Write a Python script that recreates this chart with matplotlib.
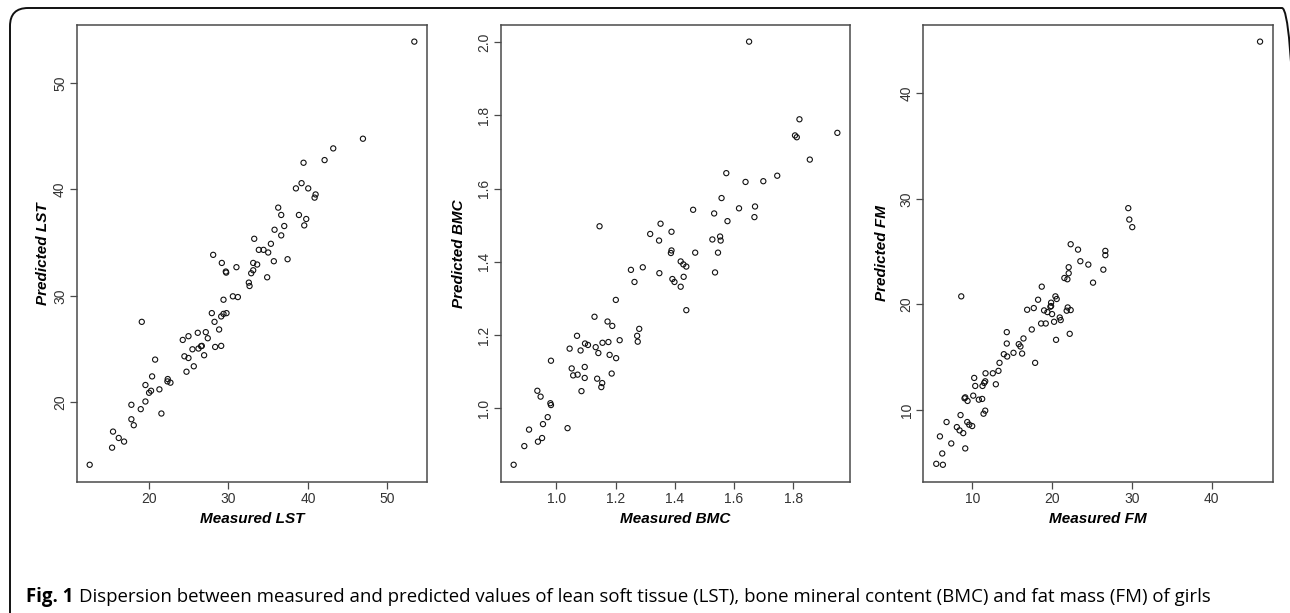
import matplotlib
matplotlib.use("Agg")
import matplotlib.pyplot as plt
from matplotlib.patches import FancyBboxPatch
import matplotlib.transforms as mtransforms
import numpy as np

# ---------------- data ----------------
lst_measured = [53.4, 46.93, 43.19, 42.1, 39.45, 39.2, 38.49, 40.04, 40.97, 40.84,
                36.26, 36.64, 38.87, 39.79, 37.02, 39.54, 35.8, 36.64, 33.24, 35.34,
                33.82, 34.41, 35.0, 28.07, 29.16, 33.11, 33.61, 35.71, 37.44, 31.0,
                29.66, 29.71, 33.11, 32.86, 34.87, 32.56, 32.65, 30.55, 31.18, 29.37,
                27.9, 29.37, 29.75, 29.08, 19.08, 28.24, 28.82, 26.13, 27.14, 24.96,
                24.24, 27.39, 26.55, 26.64, 25.46, 26.22, 28.32, 29.08, 24.45, 24.96,
                26.93, 20.76, 25.63, 24.71, 20.38, 22.35, 22.31, 22.69, 19.54, 20.25,
                20.0, 21.3, 19.54, 17.77, 18.95, 17.77, 18.07, 21.55, 15.46, 16.18,
                16.85, 15.34, 12.52]
lst_predicted = [53.9, 44.77, 43.86, 42.76, 42.51, 40.59, 40.1, 40.1, 39.53, 39.23,
                 38.29, 37.6, 37.6, 37.22, 36.56, 36.62, 36.21, 35.68, 35.36, 34.89,
                 34.32, 34.32, 34.07, 33.85, 33.09, 33.09, 32.94, 33.25, 33.44, 32.69,
                 32.28, 32.18, 32.4, 32.12, 31.74, 31.24, 30.92, 29.95, 29.88, 29.63,
                 28.37, 28.3, 28.37, 28.06, 27.55, 27.55, 26.83, 26.52, 26.58, 26.2,
                 25.85, 26.01, 25.26, 25.29, 24.97, 25.04, 25.19, 25.29, 24.31, 24.15,
                 24.41, 24.0, 23.37, 22.86, 22.42, 22.17, 21.95, 21.83, 21.61, 21.07,
                 20.88, 21.2, 20.06, 19.75, 19.34, 18.39, 17.83, 18.93, 17.23, 16.63,
                 16.29, 15.72, 14.11]

bmc_measured = [1.651, 1.821, 1.949, 1.806, 1.812, 1.856, 1.574, 1.746, 1.639, 1.699,
                1.558, 1.617, 1.671, 1.462, 1.669, 1.533, 1.578, 1.146, 1.352, 1.317,
                1.389, 1.347, 1.527, 1.553, 1.555, 1.389, 1.387, 1.469, 1.546, 1.252,
                1.292, 1.420, 1.429, 1.439, 1.348, 1.536, 1.264, 1.392, 1.399, 1.430,
                1.420, 1.201, 1.439, 1.129, 1.173, 1.189, 1.280, 1.070, 1.273, 1.275,
                1.214, 1.097, 1.107, 1.156, 1.176, 1.045, 1.082, 1.133, 1.142, 1.180,
                1.202, 0.982, 1.052, 1.096, 1.057, 1.072, 1.096, 1.138, 1.187, 1.155,
                1.152, 1.085, 0.936, 0.947, 0.980, 0.982, 0.971, 0.955, 0.908, 1.038,
                0.952, 0.938, 0.892, 0.856]
bmc_predicted = [2.001, 1.789, 1.752, 1.745, 1.740, 1.679, 1.642, 1.635, 1.618, 1.620,
                 1.574, 1.546, 1.551, 1.542, 1.522, 1.532, 1.511, 1.497, 1.504, 1.476,
                 1.482, 1.458, 1.461, 1.469, 1.458, 1.431, 1.424, 1.425, 1.425, 1.378,
                 1.385, 1.401, 1.393, 1.387, 1.369, 1.371, 1.345, 1.353, 1.345, 1.359,
                 1.332, 1.296, 1.268, 1.250, 1.237, 1.225, 1.217, 1.198, 1.198, 1.182,
                 1.186, 1.177, 1.173, 1.179, 1.181, 1.163, 1.158, 1.167, 1.151, 1.146,
                 1.137, 1.130, 1.109, 1.113, 1.090, 1.092, 1.083, 1.081, 1.095, 1.069,
                 1.058, 1.047, 1.048, 1.032, 1.014, 1.009, 0.976, 0.957, 0.942, 0.946,
                 0.919, 0.909, 0.897, 0.846]

fm_measured = [46.04, 29.54, 29.67, 30.04, 22.33, 23.25, 26.67, 26.67, 23.54, 24.54,
               22.08, 26.42, 22.08, 21.54, 21.92, 25.13, 18.71, 8.63, 20.42, 20.58,
               18.25, 19.88, 19.79, 19.88, 21.96, 16.88, 17.71, 19.0, 19.42, 21.83,
               22.33, 20.0, 20.96, 21.08, 18.63, 19.21, 20.25, 17.46, 14.33, 22.21,
               16.42, 20.5, 14.33, 15.83, 16.04, 13.96, 14.38, 15.17, 16.25, 17.88,
               13.42, 13.29, 12.58, 11.67, 12.96, 10.25, 10.38, 11.29, 11.5, 11.63,
               10.13, 10.83, 11.25, 9.04, 9.42, 9.13, 11.63, 11.42, 8.54, 6.79,
               9.38, 9.63, 10.0, 8.08, 8.42, 8.88, 5.96, 7.38, 9.13, 6.25,
               5.5, 6.33]
fm_predicted = [44.91, 29.13, 28.05, 27.33, 25.71, 25.2, 25.08, 24.67, 24.1, 23.78,
                23.53, 23.3, 22.96, 22.51, 22.39, 22.07, 21.69, 20.77, 20.77, 20.52,
                20.45, 20.17, 19.79, 19.85, 19.72, 19.5, 19.66, 19.44, 19.28, 19.41,
                19.47, 19.09, 18.77, 18.52, 18.2, 18.2, 18.36, 17.63, 17.38, 17.22,
                16.78, 16.65, 16.3, 16.24, 16.02, 15.29, 15.07, 15.42, 15.35, 14.47,
                14.47, 13.71, 13.48, 13.48, 12.44, 13.04, 12.28, 12.28, 12.57, 12.72,
                11.36, 10.98, 11.05, 11.11, 10.86, 11.2, 9.94, 9.65, 9.52, 8.86,
                8.86, 8.61, 8.48, 8.38, 8.07, 7.81, 7.5, 6.83, 6.36, 5.88,
                4.9, 4.81]

xlabels = ["Measured LST", "Measured BMC", "Measured FM"]
ylabels = ["Predicted LST", "Predicted BMC", "Predicted FM"]
xticks = [[20, 30, 40, 50], [1.0, 1.2, 1.4, 1.6, 1.8], [10, 20, 30, 40]]
yticks = [[20, 30, 40, 50], [1.0, 1.2, 1.4, 1.6, 1.8, 2.0], [10, 20, 30, 40]]
tick_fmt = ["{:.0f}", "{:.1f}", "{:.0f}"]
caption_bold = "Fig. 1"
caption_rest = ("Dispersion between measured and predicted values of lean soft tissue (LST), "
                "bone mineral content (BMC) and fat mass (FM) of girls")

# ---------------- figure ----------------
W, H = 1290, 613
fig = plt.figure(figsize=(W / 100, H / 100), dpi=100)
fig.patch.set_facecolor("white")

# rounded frame around the figure (partly cut at right/bottom), pixel coords from top-left
fx0, fy0, fx1, fy1 = 10, 8, 1300, 640
frame = FancyBboxPatch((fx0 / W, (H - fy1) / H), (fx1 - fx0) / W, (fy1 - fy0) / H,
                       boxstyle="round,pad=0,rounding_size=0.014",
                       transform=fig.transFigure, fill=False,
                       edgecolor="#111111", linewidth=1.4, clip_on=False,
                       mutation_aspect=W / H)
fig.add_artist(frame)

# axes boxes in pixel coordinates: (left, right)
boxes = [(76.7, 427.3), (500.7, 850.3), (923.3, 1273.0)]
ylabel_off = [34, 42, 41]
top_px, bot_px = 24.7, 481.7

data = [(lst_measured, lst_predicted), (bmc_measured, bmc_predicted), (fm_measured, fm_predicted)]

axis_col = "#4a4a4a"
tick_font = "Liberation Sans"

for i, ((l, r), (xs, ys)) in enumerate(zip(boxes, data)):
    ax = fig.add_axes([l / W, 1 - bot_px / H, (r - l) / W, (bot_px - top_px) / H])
    ax.scatter(xs, ys, s=14, facecolors="none", edgecolors="#111111", linewidths=0.8)
    ax.margins(0.04)
    ax.set_xticks(xticks[i])
    ax.set_yticks(yticks[i])
    ax.set_xticklabels([tick_fmt[i].format(v) for v in xticks[i]])
    ax.set_yticklabels([tick_fmt[i].format(v) for v in yticks[i]],
                       rotation=90, va="center")
    for sp in ax.spines.values():
        sp.set_color(axis_col)
        sp.set_linewidth(1.1)
    ax.tick_params(direction="out", length=5.3, width=0.9, color=axis_col,
                   labelsize=10, labelcolor="#333333")
    ax.tick_params(axis="x", pad=2.2)
    ax.tick_params(axis="y", pad=1.6)
    for lab in ax.get_xticklabels() + ax.get_yticklabels():
        lab.set_fontfamily(tick_font)
    ax.set_xlabel(xlabels[i], fontsize=11, fontweight="bold", fontstyle="italic",
                  family="Liberation Sans", labelpad=4.5)
    ax.set_ylabel(ylabels[i], fontsize=11, fontweight="bold", fontstyle="italic",
                  family="Liberation Sans", va="center")
    # place y label centre at a pixel offset left of the axis
    tr = mtransforms.offset_copy(ax.transAxes, fig=fig, x=-ylabel_off[i], y=0, units="dots")
    ax.yaxis.label.set_transform(tr)
    ax.yaxis.label.set_position((0, 0.5))
    ax.yaxis.set_label_coords(0, 0.5, transform=tr)

# ---------------- caption ----------------
cap_font = ["Liberation Sans Narrow", "Open Sans", "DejaVu Sans"]
t1 = fig.text(26 / W, 11 / H, caption_bold, fontsize=13.4, fontweight="bold",
              family=cap_font, va="baseline", ha="left")
fig.canvas.draw()
bb = t1.get_window_extent()
fig.text((bb.x1 + 6) / W, 11 / H, caption_rest, fontsize=13.4,
         family=cap_font, va="baseline", ha="left")

fig.savefig("out.png", dpi=100, facecolor="white")
